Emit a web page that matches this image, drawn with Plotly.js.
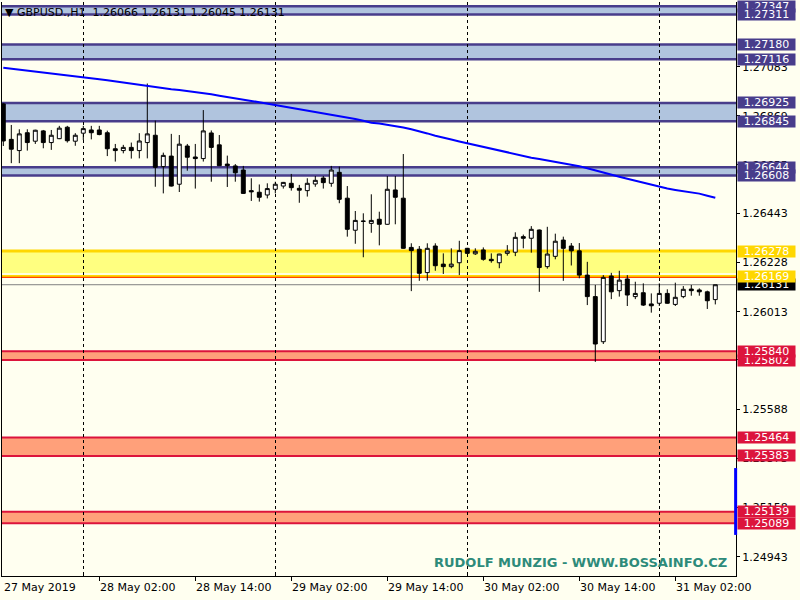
<!DOCTYPE html>
<html><head><meta charset="utf-8">
<script src="https://cdn.plot.ly/plotly-3.0.1.min.js"></script>
<style>html,body{margin:0;padding:0;background:#FFFFF0;} #chart{width:800px;height:600px;}</style>
</head><body><div id="chart"></div>
<script>
const symbol = "GBPUSD.,H1";
// Hourly bars from 27 May 2019 14:00 to 31 May 2019 07:00
const openP = [1.26921,1.26766,1.26717,1.26795,1.26758,1.26803,1.26752,1.26769,1.26819,1.26758,
1.26793,1.26807,1.26807,1.26795,1.26725,1.26717,1.26731,1.26717,1.26752,1.26784,
1.26647,1.26693,1.26570,1.26737,1.26689,1.26682,1.26794,1.26742,1.26658,1.26650,
1.26632,1.26542,1.26535,1.26523,1.26548,1.26562,1.26574,1.26552,1.26542,1.26571,
1.26597,1.26574,1.26622,1.26509,1.26369,1.26409,1.26399,1.26417,1.26395,1.26545,
1.26509,1.26294,1.26286,1.26184,1.26300,1.26221,1.26210,1.26227,1.26290,1.26266,
1.26283,1.26242,1.26227,1.26268,1.26273,1.26341,1.26334,1.26370,1.26210,1.26255,
1.26326,1.26300,1.26279,1.26173,1.26079,1.25882,1.26169,1.26105,1.26156,1.26079,
1.26096,1.26047,1.26050,1.26093,1.26045,1.26079,1.26112,1.26108,1.26100,1.26066];
const highP = [1.26925,1.26829,1.26810,1.26810,1.26808,1.26807,1.26807,1.26825,1.26825,1.26793,
1.26825,1.26825,1.26825,1.26804,1.26746,1.26742,1.26752,1.26793,1.27010,1.26848,
1.26708,1.26790,1.26785,1.26746,1.26746,1.26894,1.26805,1.26785,1.26695,1.26658,
1.26650,1.26596,1.26569,1.26574,1.26581,1.26580,1.26615,1.26567,1.26596,1.26606,
1.26606,1.26650,1.26647,1.26562,1.26453,1.26443,1.26526,1.26450,1.26606,1.26606,
1.26702,1.26312,1.26300,1.26312,1.26312,1.26268,1.26290,1.26323,1.26292,1.26290,
1.26294,1.26268,1.26266,1.26304,1.26360,1.26350,1.26387,1.26372,1.26384,1.26354,
1.26341,1.26313,1.26313,1.26231,1.26130,1.26173,1.26183,1.26192,1.26173,1.26144,
1.26137,1.26093,1.26137,1.26111,1.26140,1.26125,1.26130,1.26115,1.26105,1.26131];
const lowP = [1.26737,1.26662,1.26662,1.26717,1.26746,1.26727,1.26720,1.26767,1.26752,1.26738,
1.26763,1.26766,1.26784,1.26693,1.26669,1.26705,1.26682,1.26683,1.26683,1.26559,
1.26530,1.26560,1.26536,1.26629,1.26551,1.26669,1.26581,1.26650,1.26558,1.26581,
1.26528,1.26497,1.26494,1.26508,1.26530,1.26551,1.26542,1.26489,1.26516,1.26559,
1.26551,1.26559,1.26487,1.26341,1.26310,1.26251,1.26358,1.26303,1.26393,1.26395,
1.26288,1.26103,1.26148,1.26149,1.26192,1.26178,1.26203,1.26173,1.26266,1.26261,
1.26236,1.26227,1.26203,1.26258,1.26256,1.26290,1.26271,1.26100,1.26201,1.26242,
1.26148,1.26215,1.26159,1.26042,1.25794,1.25872,1.26068,1.26079,1.26038,1.26068,
1.26038,1.26009,1.26038,1.26048,1.26038,1.26072,1.26083,1.26083,1.26025,1.26045];
const closeP = [1.26759,1.26723,1.26790,1.26752,1.26806,1.26752,1.26784,1.26815,1.26760,1.26784,
1.26813,1.26795,1.26787,1.26725,1.26717,1.26731,1.26717,1.26759,1.26790,1.26644,
1.26696,1.26562,1.26745,1.26688,1.26682,1.26803,1.26731,1.26651,1.26651,1.26620,
1.26530,1.26537,1.26513,1.26551,1.26570,1.26578,1.26555,1.26544,1.26574,1.26587,
1.26577,1.26632,1.26504,1.26373,1.26412,1.26408,1.26412,1.26395,1.26548,1.26513,
1.26290,1.26280,1.26181,1.26290,1.26214,1.26210,1.26221,1.26280,1.26268,1.26277,
1.26242,1.26236,1.26265,1.26278,1.26338,1.26334,1.26373,1.26206,1.26265,1.26321,
1.26290,1.26279,1.26173,1.26079,1.25872,1.26163,1.26100,1.26151,1.26086,1.26093,
1.26042,1.26039,1.26093,1.26050,1.26076,1.26111,1.26105,1.26100,1.26061,1.26131];
const maLine = [1.27079,1.27075,1.27071,1.27067,1.27062,1.27058,1.27053,1.27049,1.27045,1.27041,
1.27039,1.27034,1.27029,1.27024,1.27019,1.27014,1.27009,1.27004,1.26997,1.26993,
1.26989,1.26985,1.26982,1.26978,1.26973,1.26968,1.26963,1.26957,1.26952,1.26946,
1.26940,1.26934,1.26928,1.26922,1.26917,1.26911,1.26905,1.26900,1.26894,1.26888,
1.26882,1.26876,1.26869,1.26862,1.26855,1.26847,1.26839,1.26835,1.26830,1.26825,
1.26818,1.26810,1.26802,1.26792,1.26782,1.26772,1.26765,1.26757,1.26749,1.26741,
1.26733,1.26724,1.26716,1.26707,1.26700,1.26693,1.26686,1.26680,1.26674,1.26668,
1.26662,1.26656,1.26649,1.26640,1.26630,1.26620,1.26611,1.26603,1.26594,1.26585,
1.26575,1.26566,1.26557,1.26551,1.26545,1.26540,1.26535,1.26529,1.26520,1.26511];

const xLabels = ["27 May 2019","28 May 02:00","28 May 14:00","29 May 02:00","29 May 14:00","30 May 02:00","30 May 14:00","31 May 02:00"];
const xLabelBars = [0,12,24,36,48,60,72,84];
const midnightBars = [10,34,58,82];
const yTicks = [1.24943,1.25158,1.25373,1.25588,1.25803,1.26013,1.26228,1.26443,1.26655,1.26869,1.27083];

const blueZones = [[1.27311,1.27347],[1.27116,1.27180],[1.26845,1.26925],[1.26608,1.26644]];
const yellowZone = [1.26169,1.26278];
const redZones = [[1.25802,1.25840],[1.25383,1.25464],[1.25089,1.25139]];
const bidPrice = 1.26131;
const blueMarker = [1.25038,1.25330];
const watermark = "RUDOLF MUNZIG - WWW.BOSSAINFO.CZ";

const FONT = "DejaVu Sans";
const bars = openP.map((_, i) => i);
const last = bars.length - 1;

const traces = [
  {type:'candlestick', x:bars, open:openP, high:highP, low:lowP, close:closeP,
   increasing:{line:{color:'#000000',width:1}, fillcolor:'#FFFFFF'},
   decreasing:{line:{color:'#000000',width:1}, fillcolor:'#000000'},
   whiskerwidth:0, hoverinfo:'skip', showlegend:false},
  {type:'scatter', mode:'lines', x:bars, y:maLine, line:{color:'#0000FF', width:2},
   hoverinfo:'skip', showlegend:false}
];

const shapes = [];
const hline = (y, color, width) => ({type:'line', xref:'paper', x0:0, x1:1, yref:'y', y0:y, y1:y,
  line:{color, width}, layer:'below'});
blueZones.forEach(z => {
  shapes.push({type:'rect', xref:'paper', x0:0, x1:1, yref:'y', y0:z[0], y1:z[1],
    fillcolor:'#B0C4DE', line:{width:0}, layer:'below'});
  shapes.push(hline(z[0], '#483D8B', 2.5));
  shapes.push(hline(z[1], '#483D8B', 2.5));
});
shapes.push({type:'rect', xref:'paper', x0:0, x1:1, yref:'y', y0:yellowZone[0], y1:yellowZone[1],
  fillcolor:'#FFFF80', line:{width:0}, layer:'below'});
shapes.push(hline(yellowZone[1], '#FFD700', 3));
shapes.push(hline(yellowZone[0] + 0.00009, '#FFFFFF', 1.5));
shapes.push(hline(yellowZone[0], '#FFD700', 2));
shapes.push(hline(yellowZone[0] - 0.00006, '#FF4500', 1.3));
redZones.forEach(z => {
  shapes.push({type:'rect', xref:'paper', x0:0, x1:1, yref:'y', y0:z[0], y1:z[1],
    fillcolor:'#FFA07A', line:{width:0}, layer:'below'});
  shapes.push(hline(z[0], '#DC143C', 2));
  shapes.push(hline(z[1], '#DC143C', 2));
});
shapes.push(hline(bidPrice, '#808080', 1));
shapes.push({type:'line', xref:'paper', x0:0.9995, x1:0.9995, yref:'y', y0:blueMarker[0], y1:blueMarker[1],
  line:{color:'#0000FF', width:3}, layer:'above'});

const annotations = [];
const priceLabel = (v, bg) => ({xref:'paper', x:1, xanchor:'left', xshift:1, yref:'y', y:v, yanchor:'middle',
  text:v.toFixed(5), showarrow:false, bgcolor:bg, borderpad:0, width:57, height:11, align:'center',
  font:{family:FONT, size:11, color:'#FFFFFF'}});
blueZones.forEach(z => { annotations.push(priceLabel(z[1], '#483D8B')); annotations.push(priceLabel(z[0], '#483D8B')); });
annotations.push(priceLabel(yellowZone[1], '#FFD700'));
annotations.push(priceLabel(bidPrice, '#000000'));
annotations.push(priceLabel(yellowZone[0], '#FFD700'));
redZones.forEach(z => { annotations.push(priceLabel(z[0], '#DC143C')); annotations.push(priceLabel(z[1], '#DC143C')); });

xLabels.forEach((t, k) => annotations.push({xref:'x', x:xLabelBars[k], xanchor:'left', xshift:-1,
  yref:'paper', y:0, yanchor:'top', yshift:-3, text:t, showarrow:false,
  font:{family:FONT, size:11, color:'#000000'}}));

annotations.push({xref:'paper', x:0, xanchor:'left', xshift:1, yref:'paper', y:1, yanchor:'top', yshift:-2,
  text:'▼\u00a0' + symbol + '\u00a0\u00a0' + [openP[last], highP[last], lowP[last], closeP[last]].map(v => v.toFixed(5)).join(' '),
  showarrow:false, font:{family:FONT, size:11, color:'#000000'}});

annotations.push({xref:'paper', x:1, xanchor:'right', xshift:-7, yref:'paper', y:0, yanchor:'bottom', yshift:4,
  text:'<b>' + watermark + '</b>', showarrow:false, font:{family:FONT, size:13, color:'#2E8B7A'}});

const layout = {
  width:800, height:600,
  margin:{l:2, r:64, t:2, b:24, pad:0},
  paper_bgcolor:'#FFFFF0', plot_bgcolor:'#FFFFF0',
  showlegend:false,
  xaxis:{range:[-0.1625, 91.5875], rangeslider:{visible:false}, tickmode:'array', tickvals:midnightBars,
    showticklabels:false, ticks:'inside', ticklen:4, tickcolor:'#000', showgrid:true, gridcolor:'#000000',
    griddash:'3px,3px', gridwidth:1, showline:true, linecolor:'#000', linewidth:1, zeroline:false, fixedrange:true,
    minor:{tickmode:'array', tickvals:xLabelBars.slice(1), ticks:'outside', ticklen:4, tickcolor:'#000', showgrid:false}},
  yaxis:{side:'right', range:[1.248585, 1.273661], tickmode:'array', tickvals:yTicks,
    ticktext:yTicks.map(v => v.toFixed(5)), ticks:'outside', ticklen:3, tickcolor:'#000',
    tickfont:{family:FONT, size:11, color:'#000000'}, showgrid:false, showline:true, mirror:true,
    linecolor:'#000', linewidth:1, zeroline:false, fixedrange:true},
  shapes, annotations,
  boxgap:0.3
};
Plotly.newPlot('chart', traces, layout, {staticPlot:true, displayModeBar:false});
</script>
</body></html>
